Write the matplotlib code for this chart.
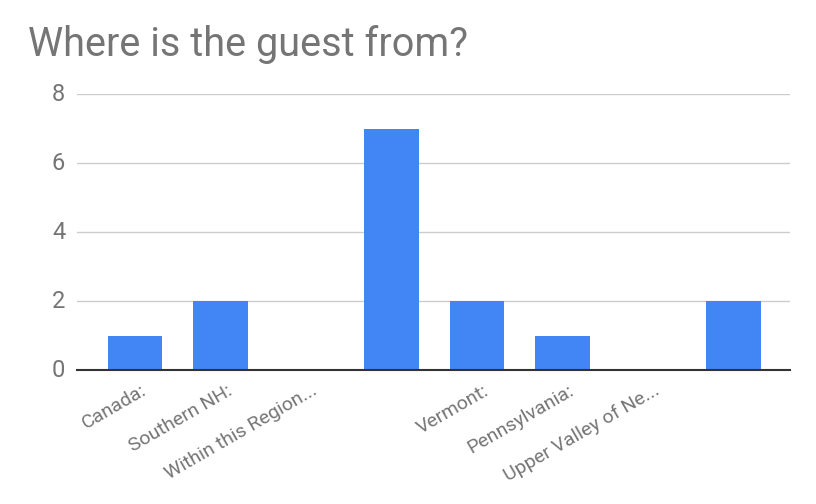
import matplotlib
matplotlib.use("Agg")
import matplotlib.pyplot as plt
import matplotlib.transforms as mtransforms

categories = ["Canada:", "Southern NH:", "Within this Region...", "", "Vermont:", "Pennsylvania:", "Upper Valley of Ne...", ""]
values = [1, 2, 0, 7, 2, 1, 0, 2]
yticks = [0, 2, 4, 6, 8]

plt.rcParams['font.family'] = ['Roboto', 'DejaVu Sans']
fig = plt.figure(figsize=(8.16, 5.04), dpi=100)
ax = fig.add_axes([77/816, 134/504, (790-77)/816, (370-94)/504])
x = list(range(len(categories)))
ax.bar(x, values, width=0.64, color="#4285f4", zorder=3)
ax.set_xlim(-0.68, 7.66)
ax.set_ylim(0, 8)
ax.set_yticks(yticks)
ax.set_yticklabels([str(v) for v in yticks], fontsize=17, color="#757575")
ax.set_xticks(x)
ax.set_xticklabels(categories, rotation=30, ha="right", va="center", rotation_mode="anchor", fontsize=14, color="#757575")
ax.tick_params(axis='both', length=0)
ax.tick_params(axis='y', pad=8.5)
ax.tick_params(axis='x', pad=14)
offset = mtransforms.ScaledTranslation(10/100, 0, fig.dpi_scale_trans)
for lab in ax.get_xticklabels():
    lab.set_transform(lab.get_transform() + offset)
yoff = mtransforms.ScaledTranslation(0, 2/100, fig.dpi_scale_trans)
for lab in ax.get_yticklabels():
    lab.set_transform(lab.get_transform() + yoff)
ax.grid(axis='y', color="#cccccc", linewidth=1, zorder=0)
for s in ["top", "right", "left"]:
    ax.spines[s].set_visible(False)
ax.spines["bottom"].set_color("#333333")
ax.spines["bottom"].set_linewidth(1.5)
ax.spines["bottom"].set_zorder(4)
fig.text(28/816, 1 - 56/504, "Where is the guest from?", fontsize=28.5, color="#757575", ha="left", va="baseline")
fig.savefig("out.png", dpi=100)
